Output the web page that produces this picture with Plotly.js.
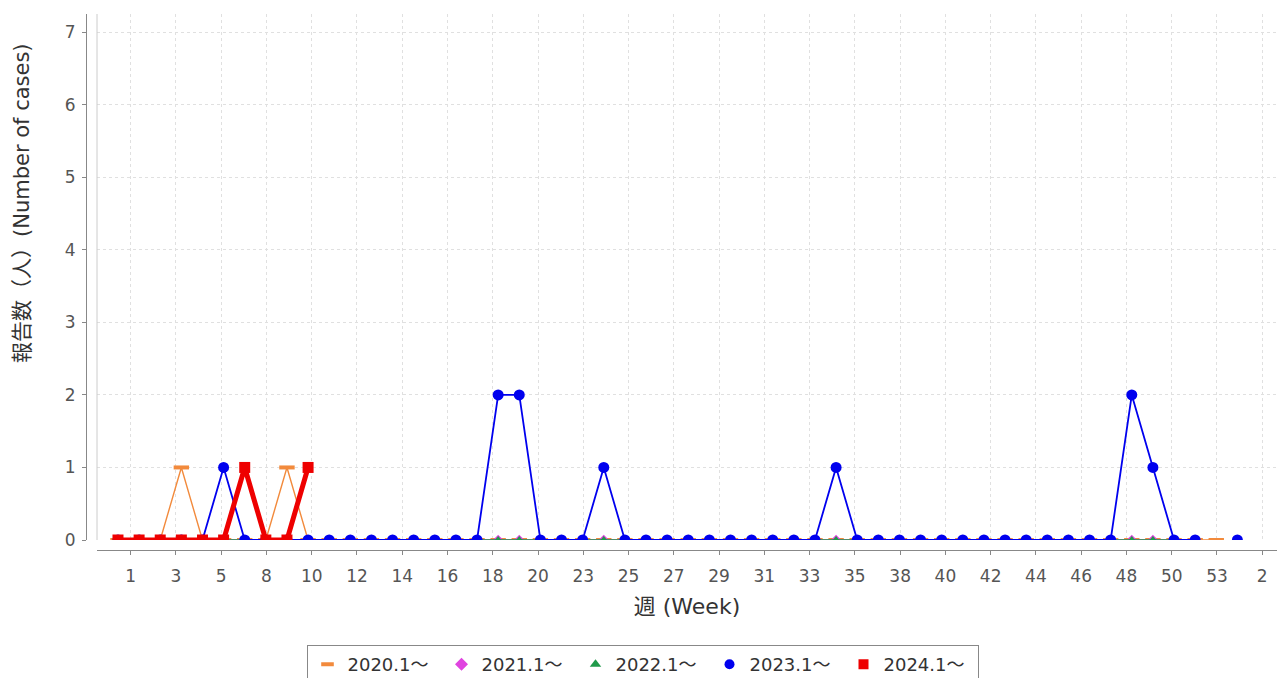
<!DOCTYPE html>
<html>
<head>
<meta charset="utf-8">
<script src="https://cdn.plot.ly/plotly-3.0.1.min.js"></script>
<style>html,body{margin:0;padding:0;background:#fff;}#chart{width:1278px;height:678px;}</style>
</head>
<body>
<div id="chart"></div>
<script>
// Week tick labels as shown on the axis
const weekTickLabels = ['1','3','5','8','10','12','14','16','18','20','23','25','27','29','31','33','35','38','40','42','44','46','48','50','53','2'];

// Series names
const seriesNames = ['2020.1～','2021.1～','2022.1～','2023.1～','2024.1～'];

// Reported cases per week position (index 0 = first week shown)
const cases2020 = [0,0,0,1,0,0,0,0,1,0,0,0,0,0,0,0,0,0,0,0,0,0,0,0,0,0,0,0,0,0,0,0,0,0,0,0,0,0,0,0,0,0,0,0,0,0,0,0,0,0,0,0,0];
const cases2021 = [0,0,0,0,0,0,0,0,0,0,0,0,0,0,0,0,0,0,0,0,0,0,0,0,0,0,0,0,0,0,0,0,0,0,0,0,0,0,0,0,0,0,0,0,0,0,0,0,0,0,0,0];
const cases2022 = [0,0,0,0,0,0,0,0,0,0,0,0,0,0,0,0,0,0,0,0,0,0,0,0,0,0,0,0,0,0,0,0,0,0,0,0,0,0,0,0,0,0,0,0,0,0,0,0,0,0,0,0];
const cases2023 = [0,0,0,0,0,1,0,0,0,0,0,0,0,0,0,0,0,0,2,2,0,0,0,1,0,0,0,0,0,0,0,0,0,0,1,0,0,0,0,0,0,0,0,0,0,0,0,0,2,1,0,0,null,0];
const cases2024 = [0,0,0,0,0,0,1,0,0,1];

const idx = arr => arr.map((_, i) => i);

// layout geometry (px)
const W = 1278, H = 678;
const mL = 86, mR = 1, mT = 14, mB = 128;
const plotW = W - mL - mR, plotH = H - mT - mB;
const xDomStart = 11 / plotW;
const yDomStart = 10 / plotH;
const xRange = [-0.994, 54.876];
const tickStart = 0.601, tickStep = 2.143;
const tickVals = weekTickLabels.map((_, i) => tickStart + i * tickStep);

const colors = ['#f28a3c', '#e044e0', '#1f9a4a', '#0000ee', '#ee0000'];
const symbols = ['line-ew', 'diamond', 'triangle-up', 'circle', 'square'];
const lineWidths = [1.4, 1.3, 1.3, 1.8, 5];
const markerSizes = [11, 8, 8, 11, 11];
const seriesData = [cases2020, cases2021, cases2022, cases2023, cases2024];

function markerStyle(i, size) {
  const m = {symbol: symbols[i], size: size, color: colors[i]};
  if (symbols[i] === 'line-ew') m.line = {color: colors[i], width: 4};
  else m.line = {width: 0};
  return m;
}

const traces = [];
seriesData.forEach((ys, i) => {
  traces.push({
    x: idx(ys), y: ys, name: seriesNames[i], mode: 'lines+markers',
    showlegend: false, legendgroup: 'g' + i,
    line: {color: colors[i], width: lineWidths[i]},
    marker: markerStyle(i, markerSizes[i])
  });
});
// legend entries: marker only, as in the reference
seriesData.forEach((ys, i) => {
  traces.push({
    x: [null], y: [null], name: seriesNames[i], mode: 'markers',
    showlegend: true, legendgroup: 'g' + i,
    marker: markerStyle(i, i === 0 ? 9 : 10)
  });
});

const font = "'DejaVu Sans', 'Noto Sans CJK JP', sans-serif";

const layout = {
  width: W, height: H,
  margin: {l: mL, r: mR, t: mT, b: mB, pad: 0, autoexpand: false},
  paper_bgcolor: '#fff', plot_bgcolor: '#fff',
  font: {family: font, color: '#444', size: 17},
  showlegend: true,
  xaxis: {
    domain: [xDomStart, 1], anchor: 'free', position: 0,
    range: xRange, tickmode: 'array', tickvals: tickVals, ticktext: weekTickLabels,
    showline: true, linecolor: '#888', linewidth: 1,
    ticks: 'outside', ticklen: 4, tickcolor: '#888', ticklabelstandoff: 7,
    showgrid: true, gridcolor: '#e0e0e0', griddash: '3px,3px', gridwidth: 1,
    zeroline: false, tickfont: {size: 17, color: '#555'},
    title: {text: '週 (Week)', font: {size: 22, color: '#333'}, standoff: 13}
  },
  yaxis: {
    domain: [yDomStart, 1], anchor: 'free', position: 0,
    range: [0, 7.25], tickmode: 'linear', tick0: 0, dtick: 1,
    showline: true, linecolor: '#888', linewidth: 1,
    ticks: 'outside', ticklen: 4, tickcolor: '#888', ticklabelstandoff: 3,
    showgrid: true, gridcolor: '#e0e0e0', griddash: '3px,3px', gridwidth: 1,
    zeroline: false, tickfont: {size: 17, color: '#555'}
  },
  legend: {
    orientation: 'h', x: (642.5 - mL) / plotW, xanchor: 'center',
    y: (mT + plotH - 645) / plotH, yanchor: 'top',
    bordercolor: '#888', borderwidth: 1, bgcolor: '#fff',
    font: {size: 18, color: '#333'}, itemwidth: 30, traceorder: 'normal',
    entrywidth: 89, entrywidthmode: 'pixels'
  },
  annotations: [
    {text: '報告数（人）(Number of cases)', textangle: -90, showarrow: false,
     xref: 'paper', yref: 'paper', x: (22 - mL) / plotW, y: (mT + plotH - 203) / plotH,
     xanchor: 'center', yanchor: 'middle', font: {size: 21, color: '#333'}}
  ],
  shapes: [
    // plot-area left border
    {type: 'line', xref: 'paper', yref: 'paper', x0: xDomStart, x1: xDomStart, y0: yDomStart, y1: 1,
     line: {color: '#cccccc', width: 1}},
    // the plot area clips marks at its bottom edge; mask the strip above the offset x axis
    {type: 'rect', xref: 'paper', yref: 'paper', layer: 'above', x0: xDomStart - 0.002, x1: 1,
     y0: 1.5 / plotH, y1: yDomStart, fillcolor: '#fff', line: {width: 0}}
  ]
};

Plotly.newPlot('chart', traces, layout, {displayModeBar: false, staticPlot: true});
</script>
</body>
</html>
